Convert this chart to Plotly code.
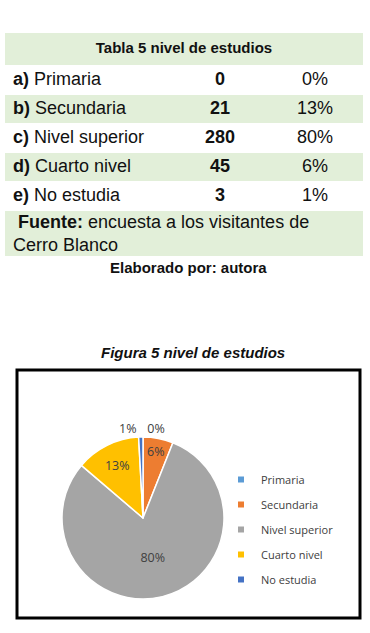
import plotly.graph_objects as go

W, H = 370, 633

# ---- data ----
table_title = "Tabla 5 nivel de estudios"
row_letters = ["a)", "b)", "c)", "d)", "e)"]
categories = ["Primaria", "Secundaria", "Nivel superior", "Cuarto nivel", "No estudia"]
counts = [0, 21, 280, 45, 3]
table_pcts = ["0%", "13%", "80%", "6%", "1%"]
source_label = "Fuente:"
source_text = "encuesta a los visitantes de<br>Cerro Blanco"
elaborado = "Elaborado por: autora"
figure_title = "Figura 5 nivel de estudios"
pie_colors = ["#5B9BD5", "#ED7D31", "#A5A5A5", "#FFC000", "#4472C4"]

# ---- layout constants (pixels) ----
GREEN = "#E2EFD9"
TFONT = "Liberation Sans, Arial, sans-serif"
CFONT = "Open Sans, sans-serif"
TXT = "#111111"
T_LEFT, T_RIGHT = 5, 363
ROW_EDGES = [33, 66, 95, 124, 153, 182, 211, 257]   # header, 5 rows, source
COL_X = [13, 220, 315]


def px_x(x):
    return x / W


def px_y(y):
    return 1 - y / H


n = len(categories)
centers = [(ROW_EDGES[i] + ROW_EDGES[i + 1]) / 2 for i in range(len(ROW_EDGES) - 1)]
row_fill_z = [[1]] + [[i % 2] for i in range(n)] + [[1]]

fig = go.Figure()

# table backgrounds
fig.add_trace(go.Heatmap(
    x=[T_LEFT, T_RIGHT], y=ROW_EDGES, z=row_fill_z, zmin=0, zmax=1,
    colorscale=[[0, "white"], [1, GREEN]], showscale=False, ygap=1,
    hoverinfo="skip",
))

tfont = dict(family=TFONT, size=18, color=TXT)
# header text
fig.add_trace(go.Scatter(
    x=[(T_LEFT + T_RIGHT) / 2], y=[centers[0]], mode="text",
    text=["<b>" + table_title + "</b>"], textposition="middle center",
    textfont=dict(family=TFONT, size=15, color=TXT), showlegend=False, hoverinfo="skip"))
# label column
fig.add_trace(go.Scatter(
    x=[COL_X[0]] * n, y=centers[1:1 + n], mode="text",
    text=["<b>%s</b> %s" % (l, c) for l, c in zip(row_letters, categories)],
    textposition="middle right", textfont=tfont, showlegend=False, hoverinfo="skip"))
# counts column
fig.add_trace(go.Scatter(
    x=[COL_X[1]] * n, y=centers[1:1 + n], mode="text",
    text=["<b>%d</b>" % v for v in counts],
    textposition="middle center", textfont=tfont, showlegend=False, hoverinfo="skip"))
# percent column
fig.add_trace(go.Scatter(
    x=[COL_X[2]] * n, y=centers[1:1 + n], mode="text",
    text=table_pcts, textposition="middle center", textfont=tfont,
    showlegend=False, hoverinfo="skip"))
# source row
fig.add_trace(go.Scatter(
    x=[COL_X[0]], y=[centers[-1] + 1], mode="text",
    text=[" <b>" + source_label + "</b> " + source_text],
    textposition="middle right", textfont=tfont, showlegend=False, hoverinfo="skip"))

# pie
fig.add_trace(go.Pie(
    labels=categories, values=counts, sort=False, direction="clockwise", rotation=0,
    marker=dict(colors=pie_colors, line=dict(color="white", width=1.5)),
    texttemplate="%{percent:.0%}",
    textposition=["outside", "inside", "inside", "inside", "outside"],
    insidetextorientation="horizontal",
    textfont=dict(family=CFONT, size=12.5, color="#404040"),
    domain=dict(x=[px_x(62), px_x(224)], y=[px_y(599), px_y(437)]),
    showlegend=False, hoverinfo="label+percent",
))

# legend entries
for name, col in zip(categories, pie_colors):
    fig.add_trace(go.Scatter(x=[None], y=[None], mode="markers", name=name,
                             legendgroup=name, hoverinfo="skip",
                             marker=dict(symbol="square", size=6, color=col)))

fig.update_layout(
    width=W, height=H, margin=dict(l=0, r=0, t=0, b=0),
    paper_bgcolor="white", plot_bgcolor="rgba(0,0,0,0)",
    xaxis=dict(visible=False, range=[T_LEFT, T_RIGHT],
               domain=[px_x(T_LEFT), px_x(T_RIGHT)], fixedrange=True),
    yaxis=dict(visible=False, range=[ROW_EDGES[-1], ROW_EDGES[0]],
               domain=[px_y(ROW_EDGES[-1]), px_y(ROW_EDGES[0])], fixedrange=True),
    showlegend=True,
    legend=dict(x=px_x(221), y=px_y(465), xanchor="left", yanchor="top",
                tracegroupgap=6, itemwidth=30,
                font=dict(family=CFONT, size=11, color="#404040"),
                bgcolor="rgba(0,0,0,0)"),
    shapes=[dict(type="rect", xref="paper", yref="paper",
                 x0=px_x(17), x1=px_x(360), y0=px_y(618), y1=px_y(370),
                 line=dict(color="black", width=3), layer="below")],
    annotations=[
        dict(text="<b>" + elaborado + "</b>", x=px_x(188), y=px_y(267),
             xref="paper", yref="paper", showarrow=False,
             font=dict(family=TFONT, size=15, color=TXT)),
        dict(text="<b><i>" + figure_title + "</i></b>", x=px_x(193), y=px_y(352),
             xref="paper", yref="paper", showarrow=False,
             font=dict(family=TFONT, size=15, color=TXT)),
    ],
)

fig.write_html("out.html")
